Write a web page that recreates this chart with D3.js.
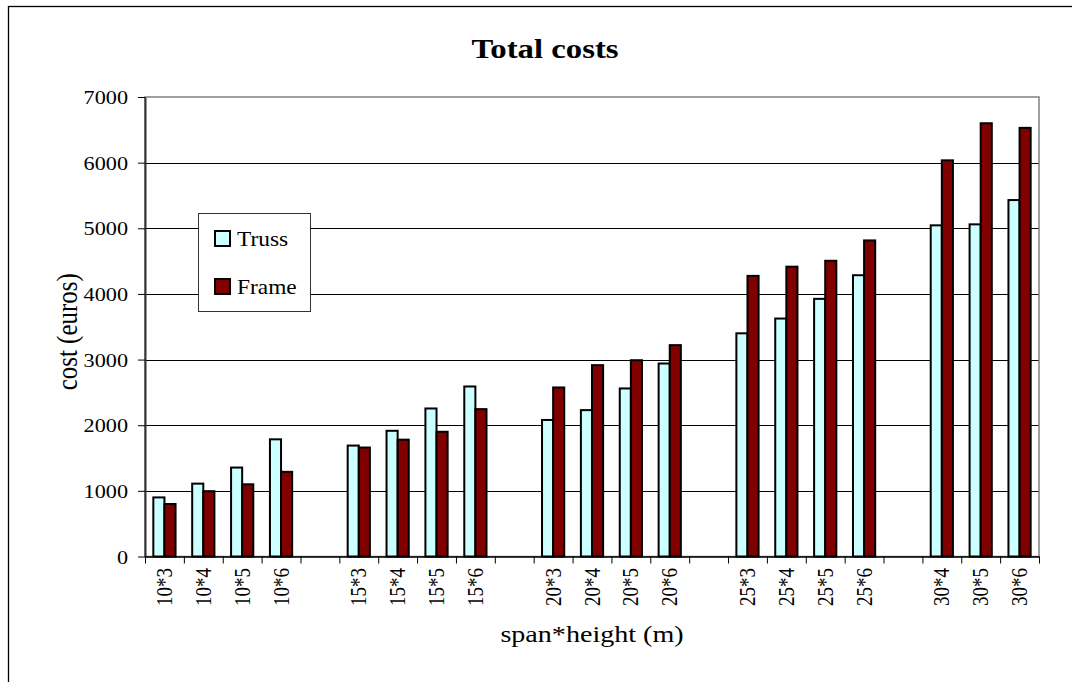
<!DOCTYPE html>
<html>
<head>
<meta charset="utf-8">
<script src="https://cdn.jsdelivr.net/npm/d3@7"></script>
<style>
  html, body { margin: 0; padding: 0; background: #fff; }
  svg { display: block; }
  text { font-family: "Liberation Serif", "Times New Roman", serif; fill: #000; }
</style>
</head>
<body>
<svg id="chart" width="1072" height="682"></svg>
<script>
// Slots along the x axis; empty strings are spacer slots between span groups.
const categories = ["10*3", "10*4", "10*5", "10*6", "",
                    "15*3", "15*4", "15*5", "15*6", "",
                    "20*3", "20*4", "20*5", "20*6", "",
                    "25*3", "25*4", "25*5", "25*6", "",
                    "30*4", "30*5", "30*6"];
const trussCost = [900, 1110, 1355, 1785, null,
                   1690, 1915, 2255, 2590, null,
                   2080, 2230, 2560, 2940, null,
                   3400, 3625, 3925, 4285, null,
                   5045, 5060, 5430];
const frameCost = [800, 995, 1100, 1290, null,
                   1660, 1780, 1900, 2245, null,
                   2575, 2915, 2990, 3220, null,
                   4275, 4415, 4505, 4815, null,
                   6035, 6600, 6530];
const seriesNames = ["Truss", "Frame"];
const yTicks = [0, 1000, 2000, 3000, 4000, 5000, 6000, 7000];

const colors = { Truss: "#CCFFFF", Frame: "#800000" };
const SX = 1.17; // horizontal text stretch of the chart

const svg = d3.select("#chart");
const plot = { left: 145, right: 1039, top: 97, bottom: 556.5 };

// Outer chart frame
svg.append("rect")
  .attr("x", 8.5).attr("y", 6.5)
  .attr("width", 1100).attr("height", 700)
  .attr("fill", "#fff").attr("stroke", "#000").attr("stroke-width", 1.3);

const y = d3.scaleLinear().domain([0, 7000]).range([plot.bottom, plot.top]);
const x = d3.scaleBand().domain(d3.range(categories.length))
  .range([plot.left, plot.right]).paddingInner(0).paddingOuter(0);
const xEdge = d3.scaleLinear().domain([0, categories.length]).range([plot.left, plot.right]);
const barW = x.bandwidth() / 3.5;
const sub = d3.scaleBand().domain(seriesNames).range([0.75 * barW, 2.75 * barW]);

// Gridlines
svg.append("g").selectAll("line")
  .data(yTicks.filter(t => t > 0 && t < 7000))
  .join("line")
  .attr("x1", plot.left).attr("x2", plot.right)
  .attr("y1", d => Math.round(y(d)) + 0.5).attr("y2", d => Math.round(y(d)) + 0.5)
  .attr("stroke", "#000").attr("stroke-width", 1);

// Plot area border
svg.append("rect")
  .attr("x", plot.left).attr("y", plot.top)
  .attr("width", plot.right - plot.left).attr("height", plot.bottom - plot.top)
  .attr("fill", "none").attr("stroke", "#808080").attr("stroke-width", 1.5);

// Bars
const rows = categories.map((c, i) => ({ i, c, Truss: trussCost[i], Frame: frameCost[i] }))
  .filter(r => r.c !== "");
const groups = svg.append("g").selectAll("g").data(rows).join("g")
  .attr("transform", d => `translate(${x(d.i)},0)`);
groups.selectAll("rect")
  .data(d => seriesNames.map(s => ({ s, v: d[s] })))
  .join("rect")
  .attr("x", d => sub(d.s))
  .attr("width", sub.bandwidth())
  .attr("y", d => y(d.v))
  .attr("height", d => y(0) - y(d.v))
  .attr("fill", d => colors[d.s])
  .attr("stroke", "#000").attr("stroke-width", 2);

// Y axis
const yAxis = svg.append("g")
  .attr("transform", `translate(${plot.left},0)`)
  .call(d3.axisLeft(y).tickValues(yTicks).tickSize(7).tickSizeOuter(0).tickFormat(d3.format("d")));
yAxis.select(".domain").attr("stroke", "#333").attr("stroke-width", 2);
yAxis.selectAll(".tick line").attr("stroke", "#000");
yAxis.selectAll(".tick text")
  .attr("font-size", 19).attr("font-family", "Liberation Serif, serif")
  .attr("x", -17 / SX).attr("dy", "0.35em")
  .attr("transform", `scale(${SX},1)`);

// X axis line and boundary ticks
const xAxis = svg.append("g")
  .attr("transform", `translate(0,${plot.bottom})`)
  .call(d3.axisBottom(xEdge).tickValues(d3.range(categories.length + 1)).tickSize(7)
    .tickSizeOuter(0).tickFormat(""));
xAxis.select(".domain").attr("stroke", "#000").attr("stroke-width", 1.5);
xAxis.selectAll(".tick line").attr("stroke", "#000");

// Category labels, rotated
svg.append("g").selectAll("g")
  .data(categories.map((c, i) => ({ c, i })).filter(d => d.c !== ""))
  .join("g")
  .attr("transform", d => `translate(${x(d.i) + x.bandwidth() / 2},568) scale(${SX},1) rotate(-90)`)
  .append("text")
  .attr("text-anchor", "end")
  .attr("dominant-baseline", "central")
  .attr("font-size", 19)
  .text(d => d.c);

// Titles
svg.append("text")
  .attr("transform", `translate(545,58) scale(${SX},1)`)
  .attr("text-anchor", "middle").attr("font-size", 28).attr("font-weight", "bold")
  .text("Total costs");
svg.append("text")
  .attr("transform", `translate(${(plot.left + plot.right) / 2},642) scale(${SX},1)`)
  .attr("text-anchor", "middle").attr("font-size", 24)
  .text("span*height (m)");
svg.append("g")
  .attr("transform", `translate(67,${(plot.top + plot.bottom) / 2 + 5}) scale(${SX},1) rotate(-90)`)
  .append("text")
  .attr("text-anchor", "middle").attr("dominant-baseline", "central").attr("font-size", 25)
  .text("cost (euros)");

// Legend
const legend = svg.append("g");
legend.append("rect")
  .attr("x", 198.5).attr("y", 213.5).attr("width", 112).attr("height", 98)
  .attr("fill", "#fff").attr("stroke", "#333").attr("stroke-width", 1);
const items = legend.selectAll("g.item").data(seriesNames).join("g")
  .attr("class", "item")
  .attr("transform", (d, i) => `translate(215,${231 + i * 48})`);
items.append("rect")
  .attr("width", 15).attr("height", 15)
  .attr("fill", d => colors[d]).attr("stroke", "#000").attr("stroke-width", 2);
items.append("text")
  .attr("transform", `translate(22,15) scale(${SX},1)`)
  .attr("font-size", 20)
  .text(d => d);
</script>
</body>
</html>
